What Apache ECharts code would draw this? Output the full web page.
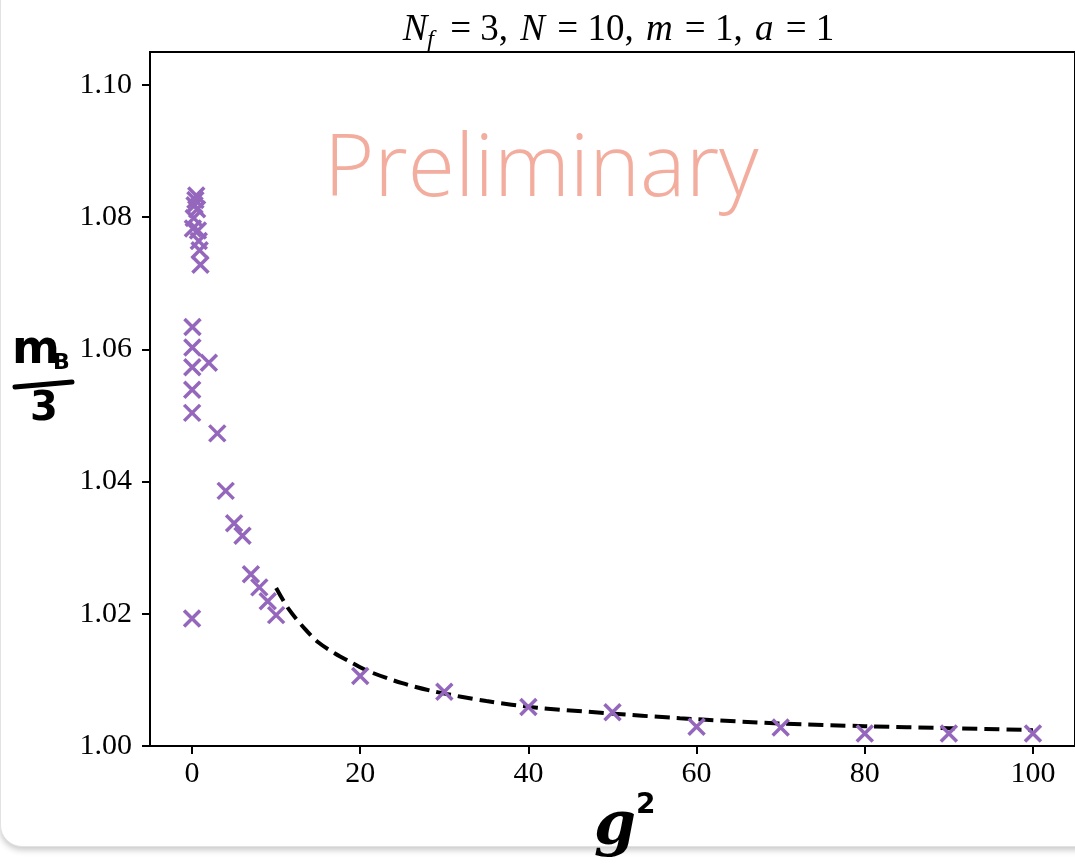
<!DOCTYPE html>
<html>
<head>
<meta charset="utf-8">
<script src="https://cdn.jsdelivr.net/npm/echarts@6/dist/echarts.min.js"></script>
<style>
    html, body {margin: 0; padding: 0; background: #ffffff; overflow: hidden;}
    #card {position: absolute; left: 0; top: -20px; width: 1100px; height: 865px;
        background: #fff; border: 1px solid #e2e2e2; border-radius: 22px;
        box-shadow: 0 3px 6px rgba(0, 0, 0, 0.22);}
    #myChart {position: absolute; left: 0; top: 0; width: 1075px; height: 865px;}
</style>
</head>
<body>
<div id="card"></div>
<div id="myChart"></div>
<script>
// g^2 values and m_B/3
var gSq = [0, 0.01, 0.02, 0.03, 0.04, 0.05,
    0.1, 0.2, 0.3, 0.4, 0.5, 0.6, 0.7, 0.8, 0.9, 1.0,
    2, 3, 4, 5, 6, 7, 8, 9, 10,
    20, 30, 40, 50, 60, 70, 80, 90, 100]
var mB3 = [1.0193, 1.0504, 1.0539, 1.0573, 1.0603, 1.0634,
    1.0783, 1.0799, 1.0818, 1.0826, 1.0833, 1.0812, 1.0780, 1.0764, 1.0750, 1.0728,
    1.0580, 1.0473, 1.0386, 1.0337, 1.0318, 1.0260, 1.0240, 1.0219, 1.0198,
    1.0106, 1.0082, 1.0059, 1.0051, 1.0029, 1.0028, 1.0019, 1.0019, 1.0019]

// dashed fit curve
var fitX = [10, 11.5, 13.5, 15, 17, 19, 21, 25, 29, 35, 41, 49, 58, 70, 80, 90, 100]
var fitY = [1.0239, 1.0207, 1.0176, 1.0157, 1.0140, 1.0126, 1.0113, 1.0095, 1.0082,
    1.0068, 1.0058, 1.0050, 1.0042, 1.0034, 1.0030, 1.0027, 1.0024]

var xTicks = [0, 20, 40, 60, 80, 100]
var yTicks = [1.00, 1.02, 1.04, 1.06, 1.08, 1.10]

var serif = "'Liberation Serif', 'DejaVu Serif', serif"

window.onload = function() {
    _initChart()
}

function zip(a, b) {
    var out = []
    for (var i = 0; i < a.length; i++) out.push([a[i], b[i]])
    return out
}

function _initChart() {
    var myChart = echarts.init(document.getElementById('myChart'), null, {renderer: 'canvas'});
    var option = {
        backgroundColor: 'transparent',
        animation: false,
        title: {
            text: '{i|N}{s|f}{r| = 3, }{i|N}{r| = 10, }{i|m}{r| = 1, }{i|a}{r| = 1}',
            left: 615,
            top: 3,
            textAlign: 'center',
            textStyle: {
                fontWeight: 'normal',
                rich: {
                    i: {fontFamily: serif, fontStyle: 'italic', fontWeight: 'normal', fontSize: 37, color: '#000', lineHeight: 44},
                    s: {fontFamily: serif, fontStyle: 'italic', fontWeight: 'normal', fontSize: 24, color: '#000', lineHeight: 40, verticalAlign: 'bottom', padding: [0, 4, 0, 0]},
                    r: {fontFamily: serif, fontWeight: 'normal', fontSize: 37, color: '#000', lineHeight: 44, padding: [0, 3, 0, 3]}
                }
            }
        },
        grid: {
            left: 150,
            top: 52,
            width: 931,
            height: 694,
            show: true,
            borderColor: '#000',
            borderWidth: 2,
            backgroundColor: 'transparent'
        },
        xAxis: {
            type: 'value',
            min: -5,
            max: 105,
            splitLine: {show: false},
            axisLine: {show: true, onZero: false, lineStyle: {color: '#000', width: 2}},
            axisTick: {show: true, length: 8, lineStyle: {color: '#000', width: 2}, customValues: xTicks},
            axisLabel: {
                customValues: xTicks,
                margin: 13,
                color: '#000',
                fontFamily: serif,
                fontSize: 30
            }
        },
        yAxis: {
            type: 'value',
            min: 1.0,
            max: 1.105,
            splitLine: {show: false},
            axisLine: {show: true, onZero: false, lineStyle: {color: '#000', width: 2}},
            axisTick: {show: true, length: 8, lineStyle: {color: '#000', width: 2}, customValues: yTicks},
            axisLabel: {
                customValues: yTicks,
                margin: 18,
                color: '#000',
                fontFamily: serif,
                fontSize: 30,
                formatter: function(v) { return v.toFixed(2) }
            }
        },
        graphic: [
            {
                type: 'text', left: 324, top: 128, z: 1,
                style: {text: 'Preliminary', fill: 'rgba(240,150,132,0.78)', font: "300 86px 'Open Sans', 'DejaVu Sans', sans-serif"}
            },
            {
                type: 'text', left: 12, top: 328,
                style: {text: 'm', fill: '#000', font: "bold 46px 'DejaVu Sans', sans-serif"}
            },
            {
                type: 'text', left: 53, top: 352,
                style: {text: 'B', fill: '#000', font: "bold 22px 'DejaVu Sans', sans-serif"}
            },
            {
                type: 'line', shape: {x1: 15, y1: 387, x2: 72, y2: 382},
                style: {stroke: '#000', lineWidth: 5, lineCap: 'round'}
            },
            {
                type: 'text', left: 30, top: 390,
                style: {text: '3', fill: '#000', font: "bold 40px 'DejaVu Sans', sans-serif"}
            },
            {
                type: 'text', left: 594, top: 792,
                style: {
                    text: '{g|g}{p|2}',
                    rich: {
                        g: {fontFamily: "'DejaVu Serif', serif", fontWeight: 'bold', fontStyle: 'italic', fontSize: 60, fill: '#000', lineHeight: 72},
                        p: {fontFamily: "'DejaVu Sans', sans-serif", fontWeight: 'bold', fontSize: 28, fill: '#000', lineHeight: 72, verticalAlign: 'top'}
                    }
                }
            }
        ],
        series: [
            {
                name: 'fit',
                type: 'line',
                data: zip(fitX, fitY),
                smooth: 0.3,
                showSymbol: false,
                z: 3,
                lineStyle: {color: '#000', width: 4, type: [15, 7]}
            },
            {
                name: 'mB/3',
                type: 'scatter',
                data: zip(gSq, mB3),
                symbol: 'path://M0,0L10,10M10,0L0,10',
                symbolSize: 16,
                z: 4,
                itemStyle: {color: 'rgba(0,0,0,0)', borderColor: '#9467bd', borderWidth: 3.5, opacity: 1}
            }
        ]
    };
    myChart.setOption(option)
    window.addEventListener('resize', function () {
        myChart.resize()
    })
}
</script>
</body>
</html>
